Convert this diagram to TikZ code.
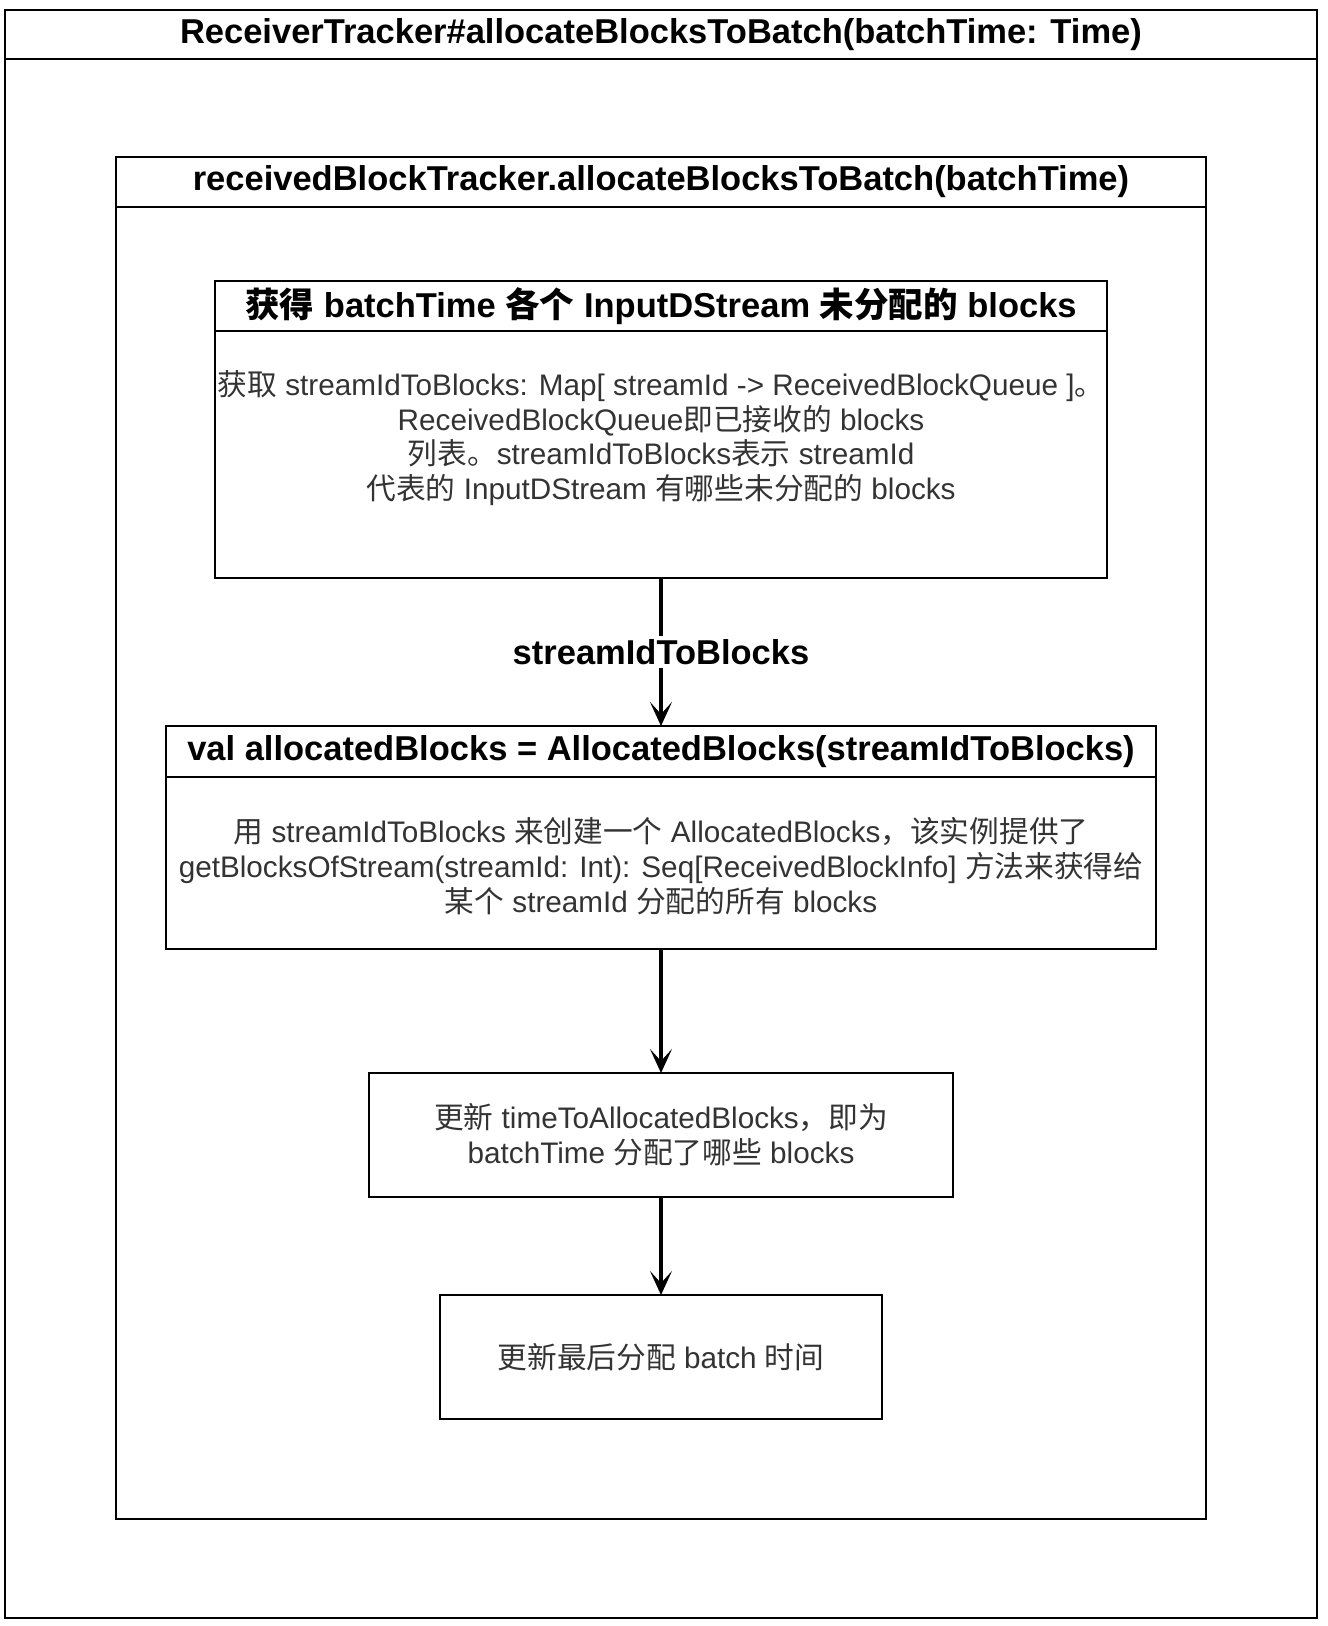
\documentclass[tikz,border=0pt]{standalone}
\usepackage{fontspec}
\setmainfont{Liberation Sans}
\newfontfamily\cjk{Noto Sans CJK SC}
\usepackage{tikz}
\usetikzlibrary{arrows.meta}
\usetikzlibrary{positioning}
\tikzset{>={Stealth[length=24pt,width=22pt,inset=12pt]}}
\definecolor{bodytext}{RGB}{51,51,51}
\newcommand{\zh}[1]{{\cjk #1}}

\begin{document}
\begin{tikzpicture}[x=1pt,y=-1pt,
        frame/.style={draw, line width=2pt, inner sep=0pt, outer sep=0pt, anchor=north},
        head/.style={font=\fontsize{34.5}{40}\selectfont\bfseries},
        body/.style={font=\fontsize{29.7}{34.7}\selectfont, text=bodytext, align=center},
        flow/.style={->, line width=3.5pt}]
            \useasboundingbox (0,0) rectangle (1328,1626);
            % ReceiverTracker
            \node[frame, minimum width=1312pt, minimum height=1608pt] (tracker) at (661,10) {};
            \node[frame, head, minimum width=1312pt, minimum height=49pt] (trackerhead) at (661,10)
                {ReceiverTracker\#allocateBlocksToBatch(batchTime: Time)};
            % receivedBlockTracker
            \node[frame, minimum width=1090pt, minimum height=1362pt] (blocktracker) at (661,157) {};
            \node[frame, head, minimum width=1090pt, minimum height=50pt] (blocktrackerhead) at (661,157)
                {receivedBlockTracker.allocateBlocksToBatch(batchTime)};
            % step 1
            \node[frame, minimum width=892pt, minimum height=297pt] (fetch) at (661,281) {};
            \node[frame, head, minimum width=892pt, minimum height=50pt] (fetchhead) at (661,281)
                {\zh{获得} batchTime \zh{各个} InputDStream \zh{未分配的} blocks};
            \node[body] (fetchtext) at (661,438)
                {\zh{获取} streamIdToBlocks: Map[ streamId -> ReceivedBlockQueue ]\zh{。}\\
                 ReceivedBlockQueue\zh{即已接收的} blocks\\
                 \zh{列表。}streamIdToBlocks\zh{表示} streamId\\
                 \zh{代表的} InputDStream \zh{有哪些未分配的} blocks};
            % step 2
            \node[frame, minimum width=990pt, minimum height=223pt] (alloc) at (661,726) {};
            \node[frame, head, minimum width=990pt, minimum height=51pt] (allochead) at (661,726)
                {val allocatedBlocks = AllocatedBlocks(streamIdToBlocks)};
            \node[body] (alloctext) at (661,866)
                {\zh{用} streamIdToBlocks \zh{来创建一个} AllocatedBlocks\zh{，该实例提供了}\\
                 getBlocksOfStream(streamId: Int): Seq[ReceivedBlockInfo] \zh{方法来获得给}\\
                 \zh{某个} streamId \zh{分配的所有} blocks};
            % step 3
            \node[frame, body, minimum width=584pt, minimum height=124pt] (update) at (661,1073)
                {\zh{更新} timeToAllocatedBlocks\zh{，即为}\\
                 batchTime \zh{分配了哪些} blocks};
            % step 4
            \node[frame, body, minimum width=442pt, minimum height=124pt] (last) at (661,1295)
                {\zh{更新最后分配} batch \zh{时间}};
            \draw[flow] (fetch.south) -- node[head, fill=white, inner sep=3pt] (idlabel) {streamIdToBlocks} (alloc.north);
            \draw[flow] (alloc.south) -- (update.north);
            \draw[flow] (update.south) -- (last.north);
        \end{tikzpicture}
\end{document}
